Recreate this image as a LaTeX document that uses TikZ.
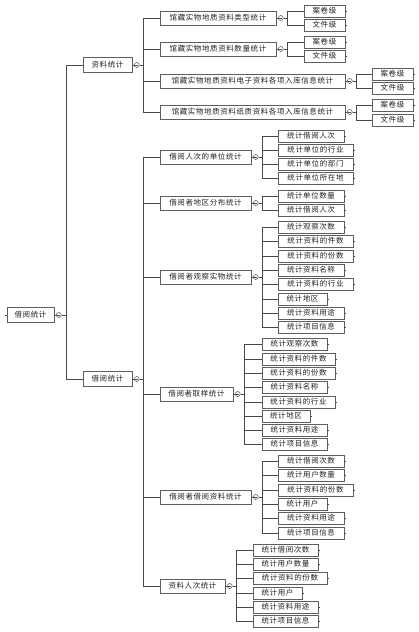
\documentclass[tikz,border=0pt]{standalone}
\usepackage{fontspec}
\newfontfamily\cjk{Noto Sans CJK SC}[LetterSpace=8]
\usetikzlibrary{shadows}
\definecolor{bordc}{HTML}{5E5E5E}
\definecolor{linec}{HTML}{4A4A4A}
\definecolor{txtc}{HTML}{222222}
\tikzset{
 box/.style={draw=bordc, line width=0.6pt, fill=white, inner sep=0pt, text=txtc,
   font=\cjk\fontsize{7.5}{8}\selectfont,
   drop shadow={shadow xshift=0.8pt, shadow yshift=-0.8pt, fill=black!55, opacity=0.8}},
 leafbox/.style={box, minimum height=12pt},
 midbox/.style={box, minimum height=14pt},
 tog/.style={circle, draw=linec, line width=0.5pt, fill=white, minimum size=5pt, inner sep=0pt,
   path picture={\draw[linec, line width=0.5pt] ([xshift=-1.4pt]path picture bounding box.center) -- ([xshift=1.4pt]path picture bounding box.center);}},
 conn/.style={draw=linec, line width=0.7pt},
}
% box: style, name, x1, x2, yc, text
\newcommand\bx[6]{\node[#1, minimum width={#4-#3}] (#2) at ({(#3+#4)/2},#5) {#6};}
% leaf: name, x1, x2, yc, text
\newcommand\lf[5]{\bx{leafbox}{#1}{#2}{#3}{#4}{#5}\draw[conn] (#1.east) -- ++(2,0);}
% group toggle: name, junction x
\newcommand\grp[2]{%
 \node[tog] (t#1) at ([xshift=4.5pt]#1.east) {};
 \coordinate (j#1) at (#2,0 |- #1.east);
 \draw[conn] (#1.east) -- (t#1.west);
 \draw[conn] (t#1.east) -- (j#1);}
\begin{document}
\begin{tikzpicture}[x=1pt,y=-1pt]
\fill[white] (0,0) rectangle (419,632);
\useasboundingbox (0,0) rectangle (419,632);

% root
\bx{midbox, minimum height=15pt}{R}{7}{54}{315}{借阅统计}
\draw[conn] (R.west) -- ++(-2,0);
\bx{midbox, minimum height=15pt}{A}{83}{132}{65}{资料统计}
\bx{midbox, minimum height=15pt}{B}{83}{132}{379}{借阅统计}
\grp{R}{66.5}
\foreach \c in {A,B} \draw[conn] (jR) |- (\c.west);

% A branch
\bx{midbox}{A1}{160}{276}{18}{馆藏实物地质资料类型统计}
\bx{midbox}{A2}{160}{276}{49}{馆藏实物地质资料数量统计}
\bx{midbox}{A3}{160}{345}{81}{馆藏实物地质资料电子资料各项入库信息统计}
\bx{midbox}{A4}{160}{345}{112}{馆藏实物地质资料纸质资料各项入库信息统计}
\grp{A}{143}
\foreach \c in {A1,A2,A3,A4} \draw[conn] (jA) |- (\c.west);

\lf{A1a}{304}{345}{11}{案卷级}
\lf{A1b}{304}{345}{25}{文件级}
\grp{A1}{287}
\foreach \c in {A1a,A1b} \draw[conn] (jA1) |- (\c.west);
\lf{A2a}{304}{345}{42}{案卷级}
\lf{A2b}{304}{345}{56}{文件级}
\grp{A2}{287}
\foreach \c in {A2a,A2b} \draw[conn] (jA2) |- (\c.west);
\lf{A3a}{372}{413}{74}{案卷级}
\lf{A3b}{372}{413}{88}{文件级}
\grp{A3}{356}
\foreach \c in {A3a,A3b} \draw[conn] (jA3) |- (\c.west);
\lf{A4a}{372}{413}{105}{案卷级}
\lf{A4b}{372}{413}{120}{文件级}
\grp{A4}{356}
\foreach \c in {A4a,A4b} \draw[conn] (jA4) |- (\c.west);

% B branch
\bx{midbox}{B1}{160}{251}{157}{借阅人次的单位统计}
\bx{midbox}{B2}{160}{251}{203}{借阅者地区分布统计}
\bx{midbox}{B3}{160}{251}{277}{借阅者观察实物统计}
\bx{midbox}{B4}{160}{233}{394}{借阅者取样统计}
\bx{midbox}{B5}{160}{251}{497}{借阅者借阅资料统计}
\bx{midbox}{B6}{160}{225}{586}{资料人次统计}
\grp{B}{143}
\foreach \c in {B1,B2,B3,B4,B5,B6} \draw[conn] (jB) |- (\c.west);

% B1
\lf{B1a}{278}{344}{136}{统计借阅人次}
\lf{B1b}{278}{353}{150}{统计单位的行业}
\lf{B1c}{278}{353}{164}{统计单位的部门}
\lf{B1d}{278}{353}{178}{统计单位所在地}
\grp{B1}{262}
\foreach \c in {B1a,B1b,B1c,B1d} \draw[conn] (jB1) |- (\c.west);

% B2
\lf{B2a}{278}{344}{196}{统计单位数量}
\lf{B2b}{278}{344}{210}{统计借阅人次}
\grp{B2}{262}
\foreach \c in {B2a,B2b} \draw[conn] (jB2) |- (\c.west);

% B3
\lf{B3a}{278}{344}{227}{统计观察次数}
\lf{B3b}{278}{353}{241}{统计资料的件数}
\lf{B3c}{278}{353}{256}{统计资料的份数}
\lf{B3d}{278}{344}{270}{统计资料名称}
\lf{B3e}{278}{353}{284}{统计资料的行业}
\lf{B3f}{278}{327}{299}{统计地区}
\lf{B3g}{278}{344}{313}{统计资料用途}
\lf{B3h}{278}{344}{327}{统计项目信息}
\grp{B3}{262}
\foreach \c in {B3a,B3b,B3c,B3d,B3e,B3f,B3g,B3h} \draw[conn] (jB3) |- (\c.west);

% B4
\lf{B4a}{262}{327}{344}{统计观察次数}
\lf{B4b}{262}{335}{359}{统计资料的件数}
\lf{B4c}{262}{335}{373}{统计资料的份数}
\lf{B4d}{262}{327}{387}{统计资料名称}
\lf{B4e}{262}{335}{402}{统计资料的行业}
\lf{B4f}{262}{310}{416}{统计地区}
\lf{B4g}{262}{327}{430}{统计资料用途}
\lf{B4h}{262}{327}{444}{统计项目信息}
\grp{B4}{244}
\foreach \c in {B4a,B4b,B4c,B4d,B4e,B4f,B4g,B4h} \draw[conn] (jB4) |- (\c.west);

% B5
\lf{B5a}{278}{344}{461}{统计借阅次数}
\lf{B5b}{278}{344}{475}{统计用户数量}
\lf{B5c}{278}{353}{490}{统计资料的份数}
\lf{B5d}{278}{327}{504}{统计用户}
\lf{B5e}{278}{344}{518}{统计资料用途}
\lf{B5f}{278}{344}{533}{统计项目信息}
\grp{B5}{262}
\foreach \c in {B5a,B5b,B5c,B5d,B5e,B5f} \draw[conn] (jB5) |- (\c.west);

% B6
\lf{B6a}{253}{318}{550}{统计借阅次数}
\lf{B6b}{253}{318}{564}{统计用户数量}
\lf{B6c}{253}{327}{578}{统计资料的份数}
\lf{B6d}{253}{302}{593}{统计用户}
\lf{B6e}{253}{318}{607}{统计资料用途}
\lf{B6f}{253}{318}{621}{统计项目信息}
\grp{B6}{236}
\foreach \c in {B6a,B6b,B6c,B6d,B6e,B6f} \draw[conn] (jB6) |- (\c.west);
\end{tikzpicture}
\end{document}
